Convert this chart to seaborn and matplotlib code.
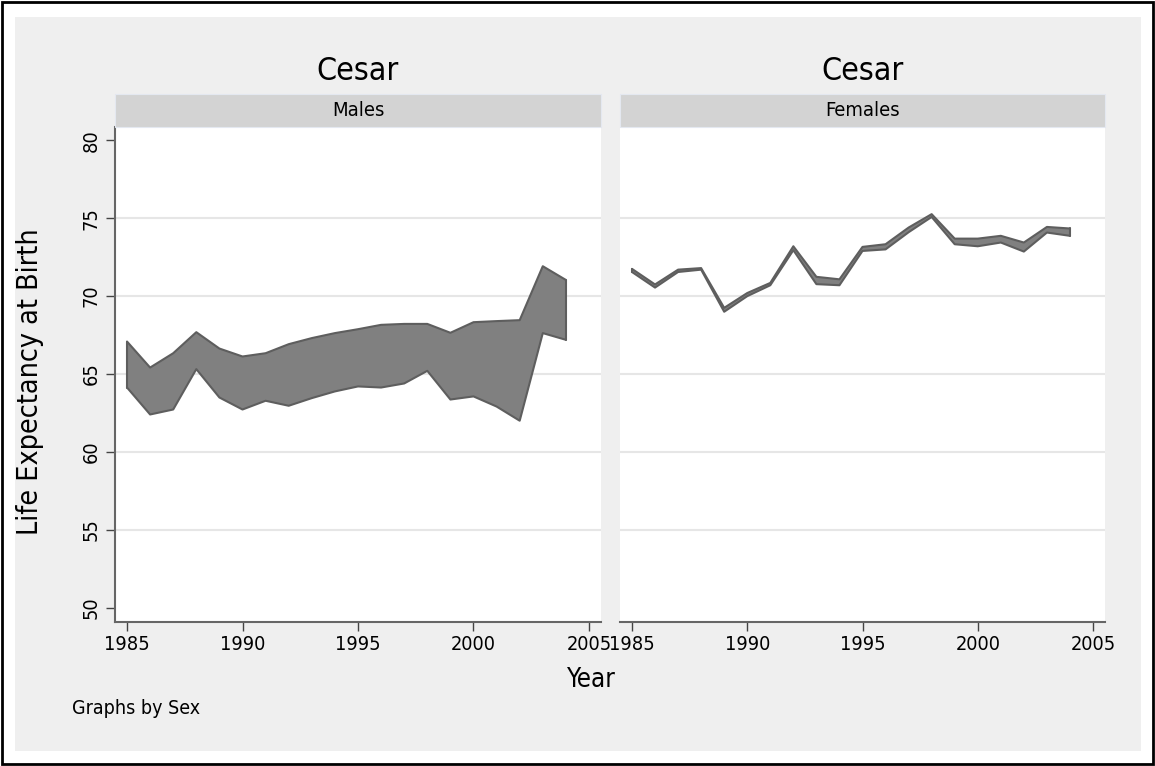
import numpy as np
import pandas as pd
import matplotlib
matplotlib.use("Agg")
import matplotlib.pyplot as plt
from matplotlib.patches import Rectangle
import seaborn as sns

years = list(range(1985, 2005))

male_upper = [67.09, 65.42, 66.34, 67.69, 66.64, 66.13, 66.34, 66.92, 67.31, 67.63,
              67.88, 68.16, 68.22, 68.22, 67.65, 68.33, 68.40, 68.46, 71.92, 71.04]
male_lower = [64.14, 62.41, 62.73, 65.32, 63.50, 62.73, 63.29, 62.97, 63.46, 63.89,
              64.21, 64.14, 64.40, 65.21, 63.37, 63.57, 62.92, 62.01, 67.63, 67.20]

female_upper = [71.75, 70.75, 71.70, 71.80, 69.25, 70.20, 70.85, 73.20, 71.24, 71.08,
                73.16, 73.33, 74.40, 75.26, 73.69, 73.69, 73.87, 73.44, 74.44, 74.34]
female_lower = [71.55, 70.55, 71.55, 71.70, 69.00, 70.00, 70.70, 72.95, 70.77, 70.70,
                72.90, 73.00, 74.10, 75.08, 73.33, 73.20, 73.44, 72.86, 74.08, 73.87]

panels = ["Males", "Females"]
panel_title = "Cesar"
y_ticks = [50, 55, 60, 65, 70, 75, 80]
grid_levels = [55, 60, 65, 70, 75]
x_ticks = [1985, 1990, 1995, 2000, 2005]

df = pd.concat([
    pd.DataFrame({"Year": years, "lower": male_lower, "upper": male_upper, "Sex": "Males"}),
    pd.DataFrame({"Year": years, "lower": female_lower, "upper": female_upper, "Sex": "Females"}),
])

sns.set_theme(style="white")
plt.rcParams["font.family"] = ["DejaVu Sans"]
plt.rcParams["font.stretch"] = "condensed"
plt.rcParams["text.color"] = "black"

W, H = 1155, 766
fig = plt.figure(figsize=(W / 100, H / 100), dpi=100)
fig.patch.set_facecolor("white")

def fx(px):
    return px / W

def fy(py):
    return 1 - py / H

# outer frame and graph region (drawn beneath the panels)
fig.add_artist(Rectangle((fx(2), fy(764)), fx(1151), 762 / H, transform=fig.transFigure,
                         facecolor="none", edgecolor="black", linewidth=2, zorder=-20))
fig.add_artist(Rectangle((fx(15), fy(751)), fx(1126), 734 / H, transform=fig.transFigure,
                         facecolor="#efefef", edgecolor="none", zorder=-30))

fill_c = "#808080"
edge_c = "#5e5e5e"
panel_x = [(115, 601), (620, 1105)]
top_px, bot_px = 127, 622
strip_top = 94

for i, sex in enumerate(panels):
    x0, x1 = panel_x[i]
    ax = fig.add_axes([fx(x0), fy(bot_px), fx(x1 - x0), (bot_px - top_px) / H])
    ax.set_facecolor("white")
    sub = df[df["Sex"] == sex]
    ax.fill_between(sub["Year"], sub["lower"], sub["upper"], facecolor=fill_c,
                    edgecolor="none", zorder=3)
    sns.lineplot(x=sub["Year"], y=sub["upper"], ax=ax, color=edge_c, linewidth=1.5, zorder=4)
    sns.lineplot(x=sub["Year"], y=sub["lower"], ax=ax, color=edge_c, linewidth=1.5, zorder=4)
    ax.plot([sub["Year"].iloc[0]] * 2, [sub["lower"].iloc[0], sub["upper"].iloc[0]],
            color=edge_c, linewidth=1.5, zorder=4)
    ax.plot([sub["Year"].iloc[-1]] * 2, [sub["lower"].iloc[-1], sub["upper"].iloc[-1]],
            color=edge_c, linewidth=1.5, zorder=4)

    ax.set_xlim(1984.48, 2005.52)
    ax.set_ylim(49.1, 80.85)
    for g in grid_levels:
        ax.axhline(g, color="#e6e6e6", linewidth=1.5, zorder=1)
    ax.set_yticks(y_ticks)
    ax.set_xticks(x_ticks)
    ax.grid(False)
    ax.set_xlabel("")
    ax.set_ylabel("")
    for s in ["top", "right"]:
        ax.spines[s].set_visible(False)
    ax.spines["bottom"].set_color("#666666")
    ax.spines["bottom"].set_linewidth(1.5)
    ax.tick_params(axis="x", bottom=True, length=6.5, width=1, color="#444444",
                   labelsize=14.3, pad=3, labelcolor="black")
    if i == 0:
        ax.spines["left"].set_color("#666666")
        ax.spines["left"].set_linewidth(1.5)
        ax.tick_params(axis="y", left=True, length=6.5, width=1, color="#444444",
                       labelsize=14.3, pad=4, labelcolor="black")
        for lab in ax.get_yticklabels():
            lab.set_rotation(90)
            lab.set_va("center")
    else:
        ax.spines["left"].set_visible(False)
        ax.tick_params(axis="y", left=False, labelleft=False)

    # strip header
    fig.add_artist(Rectangle((fx(x0), fy(top_px)), fx(x1 - x0), (top_px - strip_top) / H,
                             transform=fig.transFigure, facecolor="#d3d3d3",
                             edgecolor="#e4e8f0", linewidth=0.8))
    fig.text(fx((x0 + x1) / 2), fy((top_px + strip_top) / 2), sex, ha="center",
             va="center", fontsize=14.5, color="black")
    fig.text(fx((x0 + x1) / 2), fy(72), panel_title, ha="center", va="center",
             fontsize=23, color="black")

fig.text(fx(591), fy(680), "Year", ha="center", va="center", fontsize=18.5, color="black")
fig.text(fx(30), fy(382), "Life Expectancy at Birth", ha="center", va="center",
         rotation=90, fontsize=20.5, color="black")
fig.text(fx(72), fy(709), "Graphs by Sex", ha="left", va="center", fontsize=14,
         color="black")

fig.savefig("out.png", dpi=100, facecolor="white")
